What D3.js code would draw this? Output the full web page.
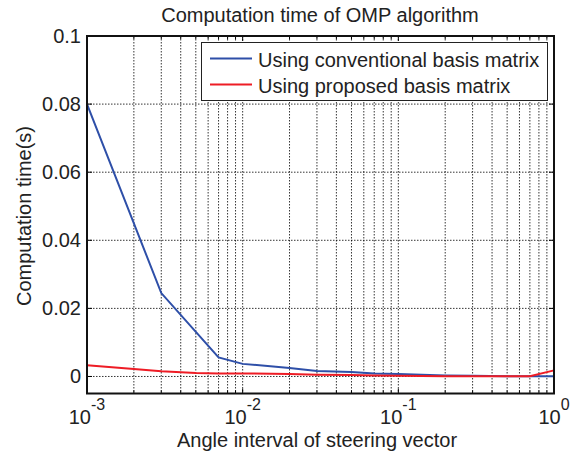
<!DOCTYPE html>
<html><head><meta charset="utf-8">
<script src="https://cdn.jsdelivr.net/npm/d3@7"></script>
<style>body{margin:0;background:#fff;} text{font-family:"Liberation Sans",Arial,sans-serif;fill:#222;}</style>
</head><body>
<svg id="c" width="575" height="454"></svg>
<script>
const xValues = [0.001, 0.003, 0.007, 0.01, 0.02, 0.03, 0.05, 0.07, 0.1, 0.2, 0.3, 0.5, 0.7, 1];
const conventional = [0.08, 0.0245, 0.0056, 0.0037, 0.0025, 0.0016, 0.0013, 0.0009, 0.0007, 0.0003, 0.0002, 0.0001, 0.0001, 0.0001];
const xValuesProposed = [0.001, 0.002, 0.003, 0.005, 0.007, 0.01, 0.02, 0.03, 0.05, 0.07, 0.1, 0.2, 0.3, 0.5, 0.7, 1];
const proposed = [0.0033, 0.0022, 0.0015, 0.001, 0.0009, 0.0009, 0.0007, 0.0005, 0.0004, 0.0003, 0.0002, 0.0001, 0.0001, 0.0001, 0.0001, 0.0018];
const yTicks = [0, 0.02, 0.04, 0.06, 0.08, 0.1];
const yTickLabels = ["0", "0.02", "0.04", "0.06", "0.08", "0.1"];
const xMajor = [0.001, 0.01, 0.1, 1];
const xMajorExp = ["-3", "-2", "-1", "0"];
const seriesNames = ["Using conventional basis matrix", "Using proposed basis matrix"];
const colors = ["#2e4fa8", "#ee1c25"];

const svg = d3.select("#c");
const L = 87, R = 554, T = 36, B = 393.5;
const x = d3.scaleLog().domain([0.001, 1]).range([L, R]);
const y = d3.scaleLinear().domain([-0.005, 0.1]).range([B, T]);

// minor/major grid
const gridX = [];
for (let e = -3; e < 0; e++) for (let k = 1; k < 10; k++) gridX.push(k * Math.pow(10, e));
gridX.push(1);
const g = svg.append("g");
g.selectAll("line.gx").data(gridX.filter(v => v > 0.001 && v < 1)).enter().append("line")
  .attr("x1", d => x(d)).attr("x2", d => x(d)).attr("y1", T).attr("y2", B)
  .attr("stroke", "#000").attr("stroke-width", 0.8).attr("stroke-dasharray", "1.5,1.5");
g.selectAll("line.gy").data(yTicks.filter(v => v < 0.1)).enter().append("line")
  .attr("x1", L).attr("x2", R).attr("y1", d => y(d)).attr("y2", d => y(d))
  .attr("stroke", "#000").attr("stroke-width", 0.8).attr("stroke-dasharray", "1.5,1.5");

// ticks (inward) on all sides
const tk = svg.append("g");
gridX.forEach(v => {
  const len = xMajor.includes(v) ? 5 : 3;
  tk.append("line").attr("x1", x(v)).attr("x2", x(v)).attr("y1", B).attr("y2", B - len).attr("stroke", "#000");
  tk.append("line").attr("x1", x(v)).attr("x2", x(v)).attr("y1", T).attr("y2", T + len).attr("stroke", "#000");
});
yTicks.forEach(v => {
  tk.append("line").attr("x1", L).attr("x2", L + 5).attr("y1", y(v)).attr("y2", y(v)).attr("stroke", "#000");
  tk.append("line").attr("x1", R).attr("x2", R - 5).attr("y1", y(v)).attr("y2", y(v)).attr("stroke", "#000");
});

// lines
const line = d3.line().x(d => x(d[0])).y(d => y(d[1]));
svg.append("path").datum(xValues.map((v, i) => [v, conventional[i]]))
  .attr("d", line).attr("fill", "none").attr("stroke", colors[0]).attr("stroke-width", 2);
svg.append("path").datum(xValuesProposed.map((v, i) => [v, proposed[i]]))
  .attr("d", line).attr("fill", "none").attr("stroke", colors[1]).attr("stroke-width", 2);

// frame
svg.append("rect").attr("x", L).attr("y", T).attr("width", R - L).attr("height", B - T)
  .attr("fill", "none").attr("stroke", "#111").attr("stroke-width", 2);

// y tick labels
svg.selectAll("text.yl").data(yTicks).enter().append("text")
  .attr("x", L - 6).attr("y", d => y(d) + 7).attr("text-anchor", "end")
  .attr("font-size", 20).text((d, i) => yTickLabels[i]);

// x tick labels
xMajor.forEach((v, i) => {
  const t = svg.append("text").attr("x", x(v)).attr("y", 424).attr("text-anchor", "middle").attr("font-size", 20);
  t.append("tspan").text("10");
  t.append("tspan").attr("dy", -14).attr("font-size", 16).text(xMajorExp[i]);
});

// titles
svg.append("text").attr("x", 320).attr("y", 22).attr("text-anchor", "middle").attr("font-size", 20).text("Computation time of OMP algorithm");
svg.append("text").attr("x", 317).attr("y", 447).attr("text-anchor", "middle").attr("font-size", 20).text("Angle interval of steering vector");
svg.append("text").attr("transform", "translate(31,216) rotate(-90)").attr("text-anchor", "middle").attr("font-size", 20).text("Computation time(s)");

// legend
const lg = svg.append("g");
lg.append("rect").attr("x", 201.5).attr("y", 42.5).attr("width", 346).attr("height", 58)
  .attr("fill", "#fff").attr("stroke", "#222").attr("stroke-width", 1);
seriesNames.forEach((n, i) => {
  const yy = 58.5 + i * 26;
  lg.append("line").attr("x1", 210).attr("x2", 252).attr("y1", yy).attr("y2", yy).attr("stroke", colors[i]).attr("stroke-width", 2);
  lg.append("text").attr("x", 258).attr("y", yy + 8).attr("font-size", 20).text(n);
});
</script>
</body></html>
